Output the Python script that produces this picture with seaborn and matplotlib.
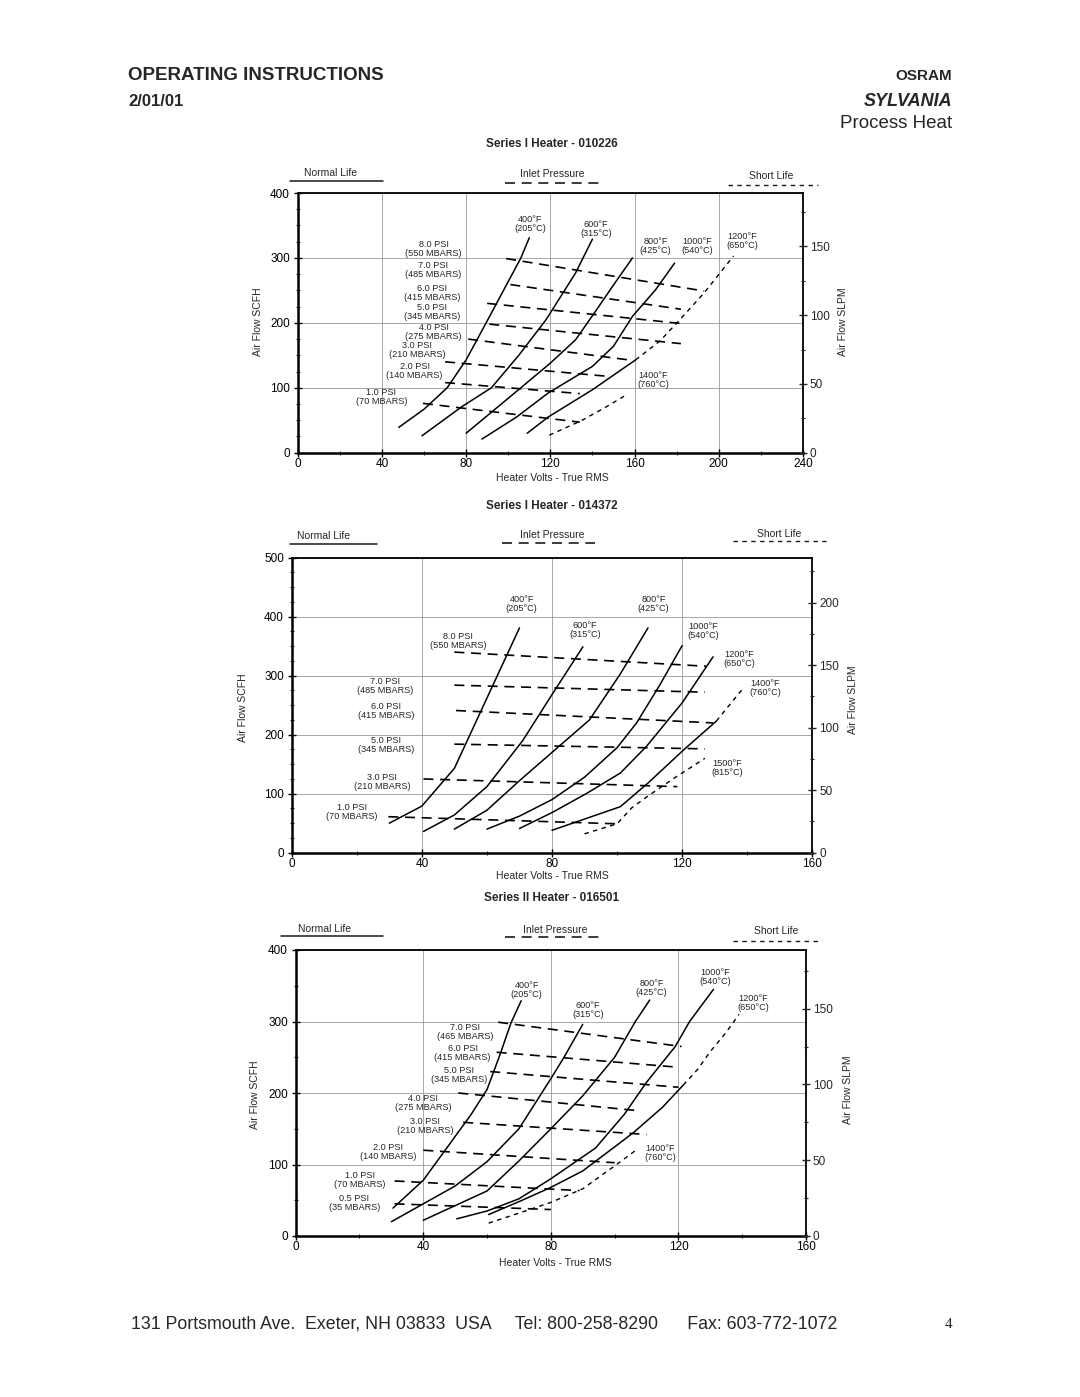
import matplotlib
matplotlib.use("Agg")
import matplotlib.pyplot as plt
from matplotlib.lines import Line2D
from matplotlib.ticker import MultipleLocator
import pandas as pd
import seaborn as sns

W, H = 1080, 1397
SLPM_PER_SCFH = 0.4719

# ---------------- Chart 1 : Series I Heater - 010226 ----------------
c1_x_ticks = [0, 40, 80, 120, 160, 200, 240]
c1_y_ticks = [0, 100, 200, 300, 400]
c1_r_ticks = [0, 50, 100, 150]
# normal life (solid) temperature curves, (volts, scfh)
c1_400F = [(48, 39), (60, 67), (71, 100), (80, 143), (89.5, 200), (106, 300), (110, 331)]
c1_600F = [(59, 26), (78, 71), (92, 100), (105, 150), (118, 205), (132, 277), (140, 329)]
c1_800F = [(80, 30), (93, 65), (106, 100), (120, 138), (132, 174), (141.5, 218), (149.5, 256), (159, 300)]
c1_1000F = [(87.5, 21), (104, 55), (119, 92), (140, 133), (150, 164), (159, 210), (170, 251), (179, 292)]
c1_1200F = [(109, 30), (119, 55), (140, 97), (160.5, 143)]
# short life (dashed)
c1_1200F_short = [(160.5, 143), (172, 172), (181, 203), (193, 246), (207, 303)]
c1_1400F_short = [(119.5, 27), (134.5, 49), (145.7, 69), (155, 87)]
# inlet pressure lines
c1_p80 = [(99, 299), (193, 249)]
c1_p70 = [(101, 259), (182, 221)]
c1_p60 = [(90, 230), (182, 199)]
c1_p50 = [(91, 198), (182, 168)]
c1_p40 = [(81, 175), (157, 143)]
c1_p30 = [(70, 140), (146, 118)]
c1_p20 = [(70, 108), (134, 91)]
c1_p10 = [(59.5, 76), (134, 47)]

# ---------------- Chart 2 : Series I Heater - 014372 ----------------
c2_x_ticks = [0, 40, 80, 120, 160]
c2_y_ticks = [0, 100, 200, 300, 400, 500]
c2_r_ticks = [0, 50, 100, 150, 200]
c2_400F = [(30, 50), (40, 79), (50, 143), (60, 262), (70, 381)]
c2_600F = [(40.5, 36), (50, 64), (60, 112), (71, 190), (80, 268), (89.5, 349)]
c2_800F = [(50, 40), (60, 72), (70, 122), (80, 170), (91.5, 225), (101, 303), (109.5, 381)]
c2_1000F = [(60, 40), (70, 62), (80, 90), (90, 128), (100, 178), (106, 220), (113, 283), (120, 351)]
c2_1200F = [(70, 41), (80, 68), (90.5, 100), (101, 135), (109, 180), (120, 254), (129.5, 332)]
c2_1400F = [(80, 38), (90, 57), (101, 78), (109.5, 118), (120.4, 174), (130.5, 223)]
c2_1400F_short = [(130.5, 223), (134.5, 250), (138.5, 277)]
c2_1500F_short = [(90, 32), (100, 49), (104.5, 76), (110, 98), (118, 128), (127, 160)]
c2_p80 = [(50, 340), (127.5, 316)]
c2_p70 = [(50, 284), (127, 272)]
c2_p60 = [(50.5, 241), (129.5, 220)]
c2_p50 = [(50, 184), (127, 176)]
c2_p30 = [(40.5, 125), (118.5, 112)]
c2_p10 = [(29.7, 61), (100, 49)]

# ---------------- Chart 3 : Series II Heater - 016501 ----------------
c3_x_ticks = [0, 40, 80, 120, 160]
c3_y_ticks = [0, 100, 200, 300, 400]
c3_r_ticks = [0, 50, 100, 150]
c3_400F = [(30.5, 39), (40, 78), (48, 127), (55, 170), (60, 205), (64, 253), (67.5, 298), (70.7, 329)]
c3_600F = [(30, 20), (50, 70), (60, 104), (70, 150), (80, 220), (84, 249), (90, 296)]
c3_800F = [(40, 22), (60, 63), (70, 105), (80, 150), (90, 196), (100, 250), (106.5, 300), (111, 330)]
c3_1000F = [(50.5, 24), (60, 35), (70, 52), (80, 80), (94, 123), (103, 170), (110, 215), (119, 265), (123.5, 300), (131, 345)]
c3_1200F = [(60.5, 30), (70, 48), (80, 68), (90, 91), (101, 128), (106, 145), (115, 180), (121.5, 211)]
c3_1200F_short = [(121.5, 211), (126, 233), (130, 258), (135, 285), (139, 310)]
c3_1400F_short = [(60.5, 18), (70, 32), (80, 47), (90, 66), (100, 98), (107, 121)]
c3_p70 = [(63.5, 299), (121, 265)]
c3_p60 = [(63, 257), (120, 236)]
c3_p50 = [(61, 230), (120, 208)]
c3_p40 = [(51, 200), (108, 175)]
c3_p30 = [(52.5, 159), (110, 142)]
c3_p20 = [(40, 120), (100, 102.5)]
c3_p10 = [(31, 77), (89, 63.5)]
c3_p05 = [(31, 45), (80, 37)]

# ---------------- figure ----------------
sns.set_theme(style="white")
plt.rcParams['font.family'] = ['Liberation Sans', 'DejaVu Sans']
plt.rcParams['axes.unicode_minus'] = False

fig = plt.figure(figsize=(W / 100, H / 100), dpi=100)
fig.patch.set_facecolor('white')

SOLID = dict(linestyle='-', lw=1.1)
PRESS = dict(linestyle=(0, (6, 4)), lw=1.2)
SHORT = dict(linestyle=(0, (3.2, 3.2)), lw=1.0)


def ftext(x, y, s, **kw):
    fig.text(x / W, 1 - y / H, s, **kw)


def fline(x0, x1, y, ls, lw=1.0):
    fig.add_artist(Line2D([x0 / W, x1 / W], [1 - y / H, 1 - y / H],
                          transform=fig.transFigure, color='k', lw=lw, linestyle=ls))


def add_ax(l, t, r, b):
    return fig.add_axes([l / W, 1 - b / H, (r - l) / W, (b - t) / H])


def curve(ax, pts, style):
    df = pd.DataFrame(pts, columns=['volts', 'scfh'])
    sns.lineplot(data=df, x='volts', y='scfh', ax=ax, color='black', sort=False,
                 estimator=None, legend=False, **style)


def setup(ax, xmax, ymax, xt, yt, rt, yminor):
    ax.set_xlim(0, xmax)
    ax.set_ylim(0, ymax)
    ax.set_xticks(xt)
    ax.set_yticks(yt)
    ax.yaxis.set_minor_locator(MultipleLocator(yminor))
    ax.xaxis.set_minor_locator(MultipleLocator(20))
    ax.set_xlabel('')
    ax.set_ylabel('')
    ax.grid(True, which='major', color='0.6', lw=0.6)
    ax.set_axisbelow(True)
    ax.tick_params(which='major', direction='inout', length=6, width=1.0,
                   labelsize=8.5, colors='black', left=True, bottom=True)
    ax.tick_params(axis='x', which='major', pad=0.5)
    ax.tick_params(axis='y', which='major', pad=2.5)
    ax.tick_params(which='minor', direction='inout', length=3.5, width=0.8,
                   left=True, bottom=True)
    for side, lw in (('left', 1.8), ('bottom', 1.8), ('top', 1.3), ('right', 1.3)):
        ax.spines[side].set_visible(True)
        ax.spines[side].set_color('black')
        ax.spines[side].set_linewidth(lw)
    ax2 = ax.twinx()
    ax2.set_ylim(0, ymax * SLPM_PER_SCFH)
    ax2.set_yticks(rt)
    ax2.yaxis.set_minor_locator(MultipleLocator(25))
    ax2.tick_params(which='major', direction='inout', length=6, width=1.0,
                    labelsize=8.5, pad=2, right=True)
    ax2.tick_params(which='minor', direction='inout', length=3.5, width=0.8, right=True)
    ax2.grid(False)
    for s in ax2.spines.values():
        s.set_visible(False)
    return ax2


LBL = dict(ha='center', va='center', fontsize=6.6, linespacing=1.0)


def header(title, ty, nl, ip, sl):
    ftext(552, ty, title, ha='center', va='center', fontsize=8.5, fontweight='bold')
    ftext(nl[0], nl[1], 'Normal Life', ha='center', va='center', fontsize=7.5)
    fline(nl[2], nl[3], nl[4], '-', 1.1)
    ftext(ip[0], ip[1], 'Inlet Pressure', ha='center', va='center', fontsize=7.5)
    fline(ip[2], ip[3], ip[4], (0, (6, 4)), 1.2)
    ftext(sl[0], sl[1], 'Short Life', ha='center', va='center', fontsize=7.5)
    fline(sl[2], sl[3], sl[4], (0, (3.2, 3.2)), 1.0)


# page header / footer
ftext(128, 76, 'OPERATING INSTRUCTIONS', ha='left', va='center', fontsize=13.5, fontweight='bold')
ftext(128, 102, '2/01/01', ha='left', va='center', fontsize=12, fontweight='bold')
ftext(952, 76, 'OSRAM', ha='right', va='center', fontsize=11, fontweight='bold')
ftext(952, 101, 'SYLVANIA', ha='right', va='center', fontsize=13, fontweight='bold', style='italic')
ftext(952, 124, 'Process Heat', ha='right', va='center', fontsize=13.5)
ftext(131, 1324, '131 Portsmouth Ave.  Exeter, NH 03833  USA     Tel: 800-258-8290      Fax: 603-772-1072',
      ha='left', va='center', fontsize=12.8)
ftext(949, 1324, '4', ha='center', va='center', fontsize=11, family=['Liberation Serif', 'DejaVu Serif'])

# ---------- chart 1 ----------
header('Series I Heater - 010226', 144,
       (331, 173, 290, 383, 180.5), (552, 174, 505, 601, 183), (771, 176, 728, 818, 185))
ax1 = add_ax(297.7, 193, 803, 452.7)
for pts in (c1_400F, c1_600F, c1_800F, c1_1000F, c1_1200F):
    curve(ax1, pts, SOLID)
for pts in (c1_1200F_short, c1_1400F_short):
    curve(ax1, pts, SHORT)
for pts in (c1_p80, c1_p70, c1_p60, c1_p50, c1_p40, c1_p30, c1_p20, c1_p10):
    curve(ax1, pts, PRESS)
setup(ax1, 240, 400, c1_x_ticks, c1_y_ticks, c1_r_ticks, 25)
for s, (x, y) in zip(['400°F\n(205°C)', '600°F\n(315°C)', '800°F\n(425°C)', '1000°F\n(540°C)',
                      '1200°F\n(650°C)', '1400°F\n(760°C)'],
                     [(110.6, 352), (141.8, 344), (170, 318), (189.6, 318), (211, 326), (169, 112)]):
    ax1.text(x, y, s, **LBL)
for s, (x, y) in zip(['8.0 PSI\n(550 MBARS)', '7.0 PSI\n(485 MBARS)', '6.0 PSI\n(415 MBARS)',
                      '5.0 PSI\n(345 MBARS)', '4.0 PSI\n(275 MBARS)', '3.0 PSI\n(210 MBARS)',
                      '2.0 PSI\n(140 MBARS)', '1.0 PSI\n(70 MBARS)'],
                     [(64.5, 314), (64.5, 281), (63.9, 246), (63.9, 217), (64.5, 186),
                      (56.8, 157.5), (55.5, 126.6), (39.8, 85.5)]):
    ax1.text(x, y, s, **LBL)
ftext(552, 478, 'Heater Volts - True RMS', ha='center', va='center', fontsize=7.5)
ftext(258, 322, 'Air Flow SCFH', ha='center', va='center', fontsize=7.5, rotation=90)
ftext(843, 322, 'Air Flow SLPM', ha='center', va='center', fontsize=7.5, rotation=90)

# ---------- chart 2 ----------
header('Series I Heater - 014372', 506,
       (324, 536, 290, 377, 544), (552, 535, 502, 595, 543), (779, 534, 733, 826, 541))
ax2 = add_ax(291.7, 557.7, 812.3, 852.7)
for pts in (c2_400F, c2_600F, c2_800F, c2_1000F, c2_1200F, c2_1400F):
    curve(ax2, pts, SOLID)
for pts in (c2_1400F_short, c2_1500F_short):
    curve(ax2, pts, SHORT)
for pts in (c2_p80, c2_p70, c2_p60, c2_p50, c2_p30, c2_p10):
    curve(ax2, pts, PRESS)
setup(ax2, 160, 500, c2_x_ticks, c2_y_ticks, c2_r_ticks, 25)
for s, (x, y) in zip(['400°F\n(205°C)', '600°F\n(315°C)', '800°F\n(425°C)', '1000°F\n(540°C)',
                      '1200°F\n(650°C)', '1400°F\n(760°C)', '1500°F\n(815°C)'],
                     [(70.7, 421), (90.2, 378), (111.2, 421), (126.6, 375.5), (137.4, 327.5),
                      (145.6, 279.4), (133.8, 143.4)]):
    ax2.text(x, y, s, **LBL)
for s, (x, y) in zip(['8.0 PSI\n(550 MBARS)', '7.0 PSI\n(485 MBARS)', '6.0 PSI\n(415 MBARS)',
                      '5.0 PSI\n(345 MBARS)', '3.0 PSI\n(210 MBARS)', '1.0 PSI\n(70 MBARS)'],
                     [(51.2, 358.5), (28.7, 282), (29, 239.6), (29, 181.8), (27.7, 120.6), (18.5, 69.7)]):
    ax2.text(x, y, s, **LBL)
ftext(552, 876, 'Heater Volts - True RMS', ha='center', va='center', fontsize=7.5)
ftext(243, 708, 'Air Flow SCFH', ha='center', va='center', fontsize=7.5, rotation=90)
ftext(853, 700, 'Air Flow SLPM', ha='center', va='center', fontsize=7.5, rotation=90)

# ---------- chart 3 ----------
header('Series II Heater - 016501', 898,
       (325, 929, 281, 383, 936), (555, 930, 505, 605, 937), (776, 931, 733, 822, 941))
ax3 = add_ax(295.7, 950, 806, 1236)
for pts in (c3_400F, c3_600F, c3_800F, c3_1000F, c3_1200F):
    curve(ax3, pts, SOLID)
for pts in (c3_1200F_short, c3_1400F_short):
    curve(ax3, pts, SHORT)
for pts in (c3_p70, c3_p60, c3_p50, c3_p40, c3_p30, c3_p20, c3_p10, c3_p05):
    curve(ax3, pts, PRESS)
setup(ax3, 160, 400, c3_x_ticks, c3_y_ticks, c3_r_ticks, 50)
for s, (x, y) in zip(['400°F\n(205°C)', '600°F\n(315°C)', '800°F\n(425°C)', '1000°F\n(540°C)',
                      '1200°F\n(650°C)', '1400°F\n(760°C)'],
                     [(72.4, 344), (91.7, 316), (111.6, 346.4), (131.4, 362.7), (143.4, 325.5), (114.2, 115.7)]):
    ax3.text(x, y, s, **LBL)
for s, (x, y) in zip(['7.0 PSI\n(465 MBARS)', '6.0 PSI\n(415 MBARS)', '5.0 PSI\n(345 MBARS)',
                      '4.0 PSI\n(275 MBARS)', '3.0 PSI\n(210 MBARS)', '2.0 PSI\n(140 MBARS)',
                      '1.0 PSI\n(70 MBARS)', '0.5 PSI\n(35 MBARS)'],
                     [(53.1, 285.7), (52.3, 255.5), (51.3, 225.2), (40, 185.6), (40.5, 153.8),
                      (29, 117), (20.2, 78.3), (18.4, 45.7)]):
    ax3.text(x, y, s, **LBL)
ftext(555, 1263, 'Heater Volts - True RMS', ha='center', va='center', fontsize=7.5)
ftext(255, 1095, 'Air Flow SCFH', ha='center', va='center', fontsize=7.5, rotation=90)
ftext(848, 1090, 'Air Flow SLPM', ha='center', va='center', fontsize=7.5, rotation=90)

fig.savefig('out.png', dpi=100, facecolor='white')
